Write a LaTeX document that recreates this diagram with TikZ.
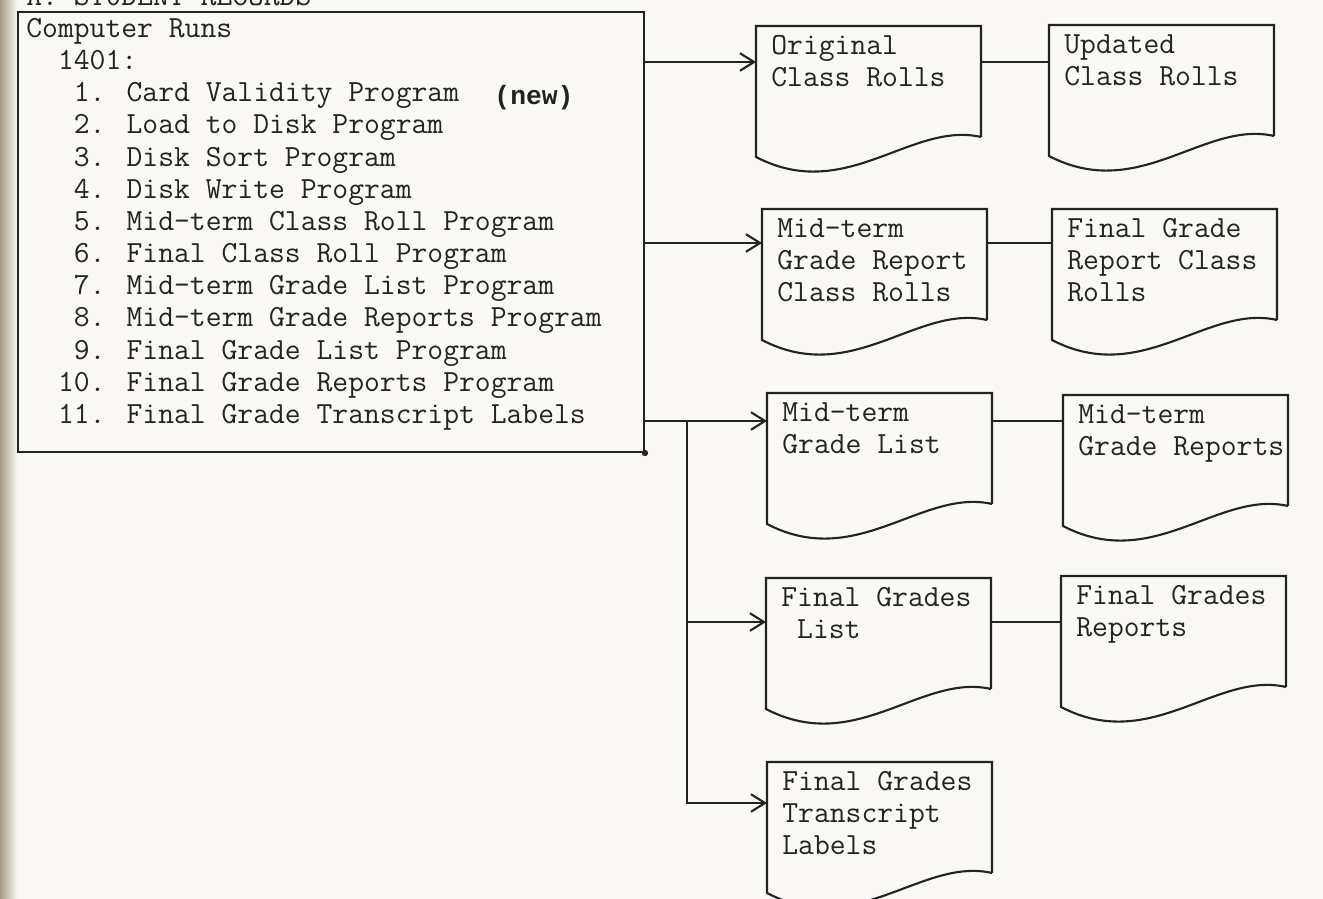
\documentclass[tikz,border=0pt]{standalone}
\usepackage{fontspec}
\newfontfamily\stampfont{Liberation Mono}
\usetikzlibrary{calc,arrows.meta}
\definecolor{paper}{RGB}{250,249,246}
\definecolor{ink}{RGB}{35,35,35}
\definecolor{binding}{RGB}{165,155,135}
\newcommand{\typer}{\fontsize{17.5pt}{18.3pt}\selectfont\ttfamily}
\newcommand{\docbox}[4]{%
  \node[docnode] (#1) at (#2,#3) {};
  \node[doctext] (#1-t) at ($(#1.north west)+(15,9)$) {#4};
  \draw[rule] (#1.south east) -- (#1.north east) -- (#1.north west)
    -- ($(#1.south west)+(0,20)$)
    .. controls ($(#1.south west)+(90,67)$) and ($(#1.south west)+(155,-16)$) .. (#1.south east);
}
\begin{document}
\begin{tikzpicture}[x=0.02cm,y=-0.02cm,
    rule/.style={draw=ink,line width=1.2pt},
    flow/.style={rule,-{Straight Barb[length=8pt,width=10pt]}},
    link/.style={rule},
    docnode/.style={rectangle,draw=none,inner sep=0pt,outer sep=0pt,
      minimum width=4.5cm,minimum height=2.22cm,anchor=north west},
    doctext/.style={anchor=north west,inner sep=0pt,align=left,text=ink,font=\typer},
    listtext/.style={anchor=north west,inner sep=0pt,align=left,text=ink,font=\typer}]
  \useasboundingbox (0,0) rectangle (1323,899);
  \fill[paper] (0,0) rectangle (1323,899);
  \shade[left color=binding,right color=paper] (0,0) rectangle (17,899);
  \node[anchor=base west,inner sep=0pt,text=ink,font=\typer] (title) at (26,6) {A. STUDENT RECORDS};

  \node[rule,rectangle,inner sep=0pt,minimum width=12.52cm,minimum height=8.8cm,anchor=north west] (runs) at (17,11) {};
  \fill[ink] (runs.south east) circle[radius=1.8pt];
  \node[listtext] (runlist) at (26,18) {Computer Runs\\
    \hphantom{00}1401:\\
    \hphantom{000}1. Card Validity Program\\
    \hphantom{000}2. Load to Disk Program\\
    \hphantom{000}3. Disk Sort Program\\
    \hphantom{000}4. Disk Write Program\\
    \hphantom{000}5. Mid-term Class Roll Program\\
    \hphantom{000}6. Final Class Roll Program\\
    \hphantom{000}7. Mid-term Grade List Program\\
    \hphantom{000}8. Mid-term Grade Reports Program\\
    \hphantom{000}9. Final Grade List Program\\
    \hphantom{00}10. Final Grade Reports Program\\
    \hphantom{00}11. Final Grade Transcript Labels};
  \node[inner sep=0pt,text=ink,font=\fontsize{15pt}{16pt}\selectfont\stampfont\bfseries] (newtag) at (534,98) {(new)};

  \docbox{orig}{756}{26}{Original\\Class Rolls}
  \docbox{upd}{1049}{25}{Updated\\Class Rolls}
  \docbox{mgrc}{762}{209}{Mid-term\\Grade Report\\Class Rolls}
  \docbox{fgrc}{1052}{209}{Final Grade\\Report Class\\Rolls}
  \docbox{mgl}{767}{393}{Mid-term\\Grade List}
  \docbox{mgr}{1063}{395}{Mid-term\\Grade Reports}
  \docbox{fgl}{766}{578}{Final Grades\\\hphantom{F}List}
  \docbox{fgr}{1061}{576}{Final Grades\\Reports}
  \docbox{fgtl}{767}{762}{Final Grades\\Transcript\\Labels}

  \coordinate (r1) at (700,62);
  \coordinate (r2) at (700,243);
  \coordinate (r3) at (700,421);
  \coordinate (r4) at (700,622);
  \coordinate (r5) at (700,803);
  \coordinate (split) at (687,421);
  \draw[flow] (runs.east |- r1) -- (orig.west |- r1);
  \draw[link] (orig.east |- r1) -- (upd.west |- r1);
  \draw[flow] (runs.east |- r2) -- (mgrc.west |- r2);
  \draw[link] (mgrc.east |- r2) -- (fgrc.west |- r2);
  \draw[flow] (runs.east |- r3) -- (mgl.west |- r3);
  \draw[link] (mgl.east |- r3) -- (mgr.west |- r3);
  \draw[flow] (split) |- (fgl.west |- r4);
  \draw[link] (fgl.east |- r4) -- (fgr.west |- r4);
  \draw[flow] (split) |- (fgtl.west |- r5);
\end{tikzpicture}
\end{document}
